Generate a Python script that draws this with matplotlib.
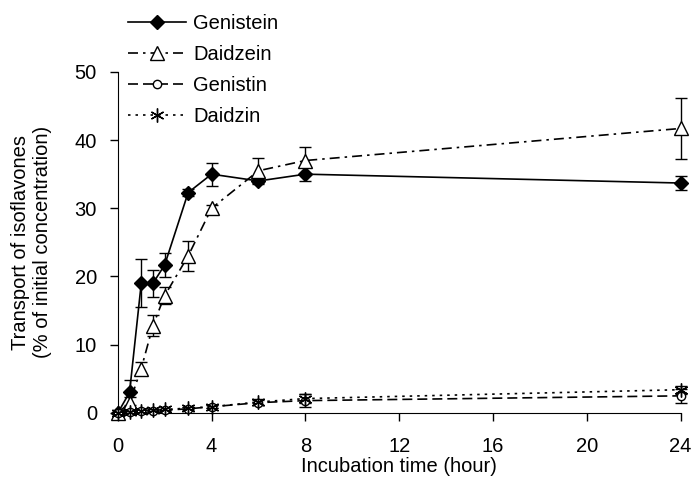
import matplotlib.pyplot as plt
import numpy as np

plt.rcParams['font.family'] = ['Liberation Sans', 'DejaVu Sans']
plt.rcParams['font.size'] = 14.5

# ----- Data -------------------------------------------------

hours = [0, 0.5, 1, 1.5, 2, 3, 4, 6, 8, 24]

genistein = [0, 3.0, 19.0, 19.0, 21.7, 32.3, 35.0, 34.0, 35.0, 33.7]
genistein_err = [0, 1.8, 3.5, 2.0, 1.8, 0.5, 1.7, 0.5, 1.0, 1.0]

daidzein = [0, 1.5, 6.5, 12.8, 17.2, 23.0, 30.0, 35.5, 37.0, 41.7]
daidzein_err = [0, 0.8, 1.0, 1.5, 1.2, 2.2, 0.5, 1.8, 2.0, 4.5]

genistin = [0, 0.2, 0.3, 0.3, 0.4, 0.6, 0.9, 1.5, 1.8, 2.5]
genistin_err = [0, 0.1, 0.1, 0.1, 0.1, 0.2, 0.2, 0.4, 1.0, 1.0]

daidzin = [0, 0.2, 0.3, 0.4, 0.5, 0.7, 0.9, 1.6, 2.1, 3.4]
daidzin_err = [0, 0.1, 0.1, 0.1, 0.1, 0.2, 0.2, 0.4, 0.6, 0.6]

xticks = [0, 4, 8, 12, 16, 20, 24]
yticks = [0, 10, 20, 30, 40, 50]

# ----- Plot -------------------------------------------------

fig = plt.figure(figsize=(6.93, 4.79), dpi=100)
ax = fig.add_axes([0.170, 0.138, 0.812, 0.712])

series = [
    ("Genistein", genistein, genistein_err, '-', 'D', 'black', 7),
    ("Daidzein", daidzein, daidzein_err, (0, (6, 3, 1.5, 3)), '^', 'white', 10),
    ("Genistin", genistin, genistin_err, (0, (6, 3)), 'o', 'white', 6),
    ("Daidzin", daidzin, daidzin_err, (0, (1.5, 3)), (6, 2, 0), 'black', 10),
]

handles = []
for label, vals, errs, ls, marker, fc, ms in series:
    # error bars first, then line with markers on top
    ax.errorbar(hours, vals, yerr=errs, fmt='none', ecolor='black',
                elinewidth=1, capsize=4, capthick=1, clip_on=False, zorder=2)
    line, = ax.plot(hours, vals, linestyle=ls, color='black', linewidth=1.2,
                    marker=marker, markersize=ms, markerfacecolor=fc,
                    markeredgecolor='black', markeredgewidth=1,
                    clip_on=False, zorder=3, label=label)
    handles.append(line)

ax.set_xlim(0, 24)
ax.set_ylim(0, 50)
ax.set_xticks(xticks)
ax.set_yticks(yticks)
ax.spines['top'].set_visible(False)
ax.spines['right'].set_visible(False)
ax.tick_params(direction='out', length=6, width=1, pad=9)
ax.tick_params(axis='x', pad=11)

ax.set_xlabel("Incubation time (hour)", labelpad=1)
ax.set_ylabel("Transport of isoflavones\n(% of initial concentration)", labelpad=16)

fig.legend(handles=handles, loc='upper left', bbox_to_anchor=(0.160, 1.006),
           frameon=False, handlelength=2.9, labelspacing=0.6,
           handletextpad=0.35, borderaxespad=0.45)

plt.savefig("out.png", dpi=100)
